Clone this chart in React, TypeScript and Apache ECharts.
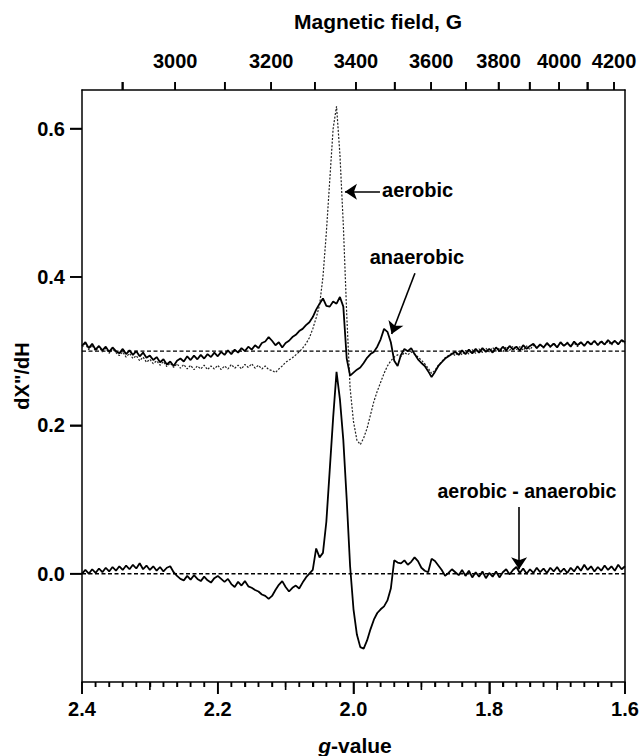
import React, { useEffect, useRef } from "react";
import * as echarts from "echarts";

// B (gauss) = FIELD_CONSTANT / g
const FIELD_CONSTANT = 6788;
const fieldMajorTicks = [3000, 3200, 3400, 3600, 3800, 4000, 4200];
const fieldMinorTicks = [2900, 3100, 3300, 3500, 3700, 3900, 4100];
const yTickValues = [0.0, 0.2, 0.4, 0.6];
const baselineLevels = [0.3, 0.0];
const G_MIN = 1.6;
const G_MAX = 2.4;
const Y_MIN = -0.146;
const Y_MAX = 0.652;

// sample positions (g-value), 2.400 down to 1.600 in steps of 0.005
const gGrid = Array.from({ length: 161 }, (_, i) => +(2.4 - 0.005 * i).toFixed(3));

const aerobic = [
  0.305, 0.310, 0.302, 0.308, 0.300, 0.306, 0.299, 0.304, 0.297, 0.303,
  0.298, 0.294, 0.299, 0.292, 0.297, 0.290, 0.294, 0.287, 0.292, 0.285,
  0.289, 0.283, 0.287, 0.281, 0.286, 0.279, 0.284, 0.278, 0.283, 0.277,
  0.282, 0.276, 0.281, 0.275, 0.280, 0.276, 0.281, 0.275, 0.280, 0.276,
  0.281, 0.275, 0.280, 0.276, 0.282, 0.277, 0.281, 0.276, 0.282, 0.278,
  0.283, 0.277, 0.281, 0.276, 0.280, 0.275, 0.274, 0.271, 0.276, 0.280,
  0.285, 0.288, 0.291, 0.295, 0.299, 0.304, 0.310, 0.318, 0.330, 0.345,
  0.362, 0.400, 0.460, 0.530, 0.600, 0.630, 0.565, 0.470, 0.350, 0.250,
  0.205, 0.180, 0.174, 0.183, 0.196, 0.214, 0.232, 0.246, 0.258, 0.270,
  0.280, 0.287, 0.292, 0.295, 0.293, 0.298, 0.295, 0.299, 0.296, 0.292,
  0.288, 0.283, 0.277, 0.270, 0.274, 0.281, 0.286, 0.291, 0.294, 0.297,
  0.294, 0.300, 0.295, 0.301, 0.296, 0.302, 0.297, 0.303, 0.298, 0.304,
  0.299, 0.305, 0.300, 0.304, 0.299, 0.306, 0.301, 0.307, 0.302, 0.306,
  0.301, 0.307, 0.302, 0.308, 0.304, 0.309, 0.304, 0.310, 0.305, 0.311,
  0.306, 0.311, 0.307, 0.312, 0.307, 0.311, 0.306, 0.312, 0.308, 0.313,
  0.308, 0.313, 0.309, 0.314, 0.309, 0.313, 0.308, 0.314, 0.310, 0.314, 0.310,
];

const anaerobic = [
  0.307, 0.312, 0.304, 0.310, 0.302, 0.307, 0.301, 0.306, 0.299, 0.305,
  0.300, 0.297, 0.303, 0.296, 0.301, 0.295, 0.300, 0.293, 0.298, 0.291,
  0.294, 0.288, 0.292, 0.285, 0.289, 0.282, 0.286, 0.280, 0.287, 0.290,
  0.286, 0.293, 0.288, 0.294, 0.289, 0.295, 0.290, 0.296, 0.292, 0.298,
  0.293, 0.299, 0.295, 0.301, 0.296, 0.302, 0.298, 0.304, 0.300, 0.306,
  0.302, 0.308, 0.304, 0.311, 0.313, 0.319, 0.314, 0.308, 0.312, 0.305,
  0.311, 0.314, 0.319, 0.322, 0.327, 0.330, 0.335, 0.339, 0.346, 0.356,
  0.364, 0.371, 0.361, 0.360, 0.367, 0.364, 0.373, 0.360, 0.290, 0.267,
  0.271, 0.275, 0.278, 0.284, 0.291, 0.296, 0.299, 0.306, 0.316, 0.330,
  0.326, 0.312, 0.287, 0.280, 0.295, 0.303, 0.300, 0.304, 0.296, 0.289,
  0.284, 0.280, 0.273, 0.265, 0.272, 0.280, 0.285, 0.290, 0.293, 0.296,
  0.299, 0.295, 0.301, 0.296, 0.302, 0.297, 0.303, 0.298, 0.304, 0.299,
  0.303, 0.298, 0.305, 0.300, 0.306, 0.301, 0.307, 0.302, 0.306, 0.301,
  0.308, 0.303, 0.307, 0.310, 0.304, 0.309, 0.305, 0.311, 0.306, 0.310,
  0.305, 0.312, 0.307, 0.311, 0.306, 0.313, 0.308, 0.312, 0.307, 0.313,
  0.309, 0.314, 0.308, 0.313, 0.309, 0.315, 0.310, 0.314, 0.309, 0.315, 0.312,
];

const difference = [
  0.000, 0.005, 0.000, 0.006, 0.001, 0.007, 0.002, 0.008, 0.003, 0.009,
  0.004, 0.010, 0.005, 0.011, 0.006, 0.012, 0.007, 0.014, 0.006, 0.011,
  0.005, 0.010, 0.004, 0.009, 0.003, 0.008, 0.010, 0.002, -0.003, -0.007,
  -0.009, -0.003, -0.008, -0.002, -0.007, -0.010, -0.004, -0.009, -0.012, -0.006,
  -0.003, -0.007, -0.011, -0.007, -0.014, -0.018, -0.011, -0.016, -0.010, -0.017,
  -0.019, -0.022, -0.024, -0.028, -0.030, -0.034, -0.030, -0.022, -0.015, -0.010,
  -0.018, -0.024, -0.019, -0.016, -0.020, -0.012, -0.005, 0.000, 0.005, 0.034,
  0.022, 0.028, 0.070, 0.140, 0.210, 0.272, 0.235, 0.180, 0.100, 0.010,
  -0.048, -0.082, -0.099, -0.101, -0.090, -0.075, -0.062, -0.053, -0.048, -0.044,
  -0.036, -0.020, 0.018, 0.015, 0.014, 0.018, 0.012, 0.016, 0.022, 0.017,
  0.008, 0.004, 0.002, 0.020, 0.017, 0.011, 0.005, -0.003, 0.001, 0.006,
  0.002, -0.002, 0.005, -0.003, 0.004, -0.005, 0.002, -0.004, 0.003, -0.006,
  0.001, -0.004, 0.003, -0.005, 0.002, 0.006, -0.001, 0.005, 0.009, 0.001,
  0.007, 0.000, 0.006, 0.001, 0.008, 0.002, 0.007, 0.001, 0.008, 0.003,
  0.009, 0.002, 0.007, 0.001, 0.008, 0.003, 0.010, 0.004, 0.012, 0.005,
  0.010, 0.003, 0.009, 0.004, 0.011, 0.005, 0.010, 0.004, 0.012, 0.006, 0.010,
];

// annotation anchors [g, value]
const aerobicArrow = [[1.961, 0.515], [2.0126, 0.515]];
const anaerobicArrow = [[1.9095, 0.405], [1.9438, 0.323]];
const diffArrow = [[1.756, 0.09], [1.756, 0.006]];
const aerobicLabelAt = [1.958, 0.517];
const anaerobicLabelAt = [1.9065, 0.427];
const diffLabelAt = [1.7445, 0.111];

type Tick = { x: number; y: number; dir: "down" | "up" | "left"; len: number; w: number };

export default function App() {
  const ref = useRef<HTMLDivElement>(null);
  useEffect(() => {
    const chart = echarts.init(ref.current!, null, { renderer: "svg" });
    const font = '"Liberation Sans", Arial, Helvetica, sans-serif';
    const pair = (vals: number[]) => gGrid.map((g, i) => [g, vals[i]]);
    const arrowLine = (a: number[][]) => [
      { coord: a[0], symbol: "none" },
      { coord: a[1], symbol: "arrow", symbolSize: 12 },
    ];
    const labelStyle = { color: "#000", fontFamily: font, fontWeight: "bold", fontSize: 20 };
    const axisLineStyle = { show: true, onZero: false, lineStyle: { color: "#000", width: 1.5 } };

    // tick marks (positions in axis units)
    const ticks: Tick[] = [];
    for (let k = 80; k <= 120; k++) {
      const g = +(k * 0.02).toFixed(2);
      const len = k % 10 === 0 ? 12 : k % 5 === 0 ? 8 : 5;
      ticks.push({ x: g, y: Y_MIN, dir: "down", len, w: 1.6 });
    }
    [...fieldMajorTicks, ...fieldMinorTicks].forEach((b) =>
      ticks.push({ x: FIELD_CONSTANT / b, y: Y_MAX, dir: "up", len: 8, w: 1.6 })
    );
    yTickValues.forEach((v) => ticks.push({ x: G_MAX, y: v, dir: "left", len: 12, w: 1.6 }));

    chart.setOption({
      animation: false,
      backgroundColor: "#fff",
      grid: { left: 82, right: 17, top: 90, bottom: 74, show: false },
      xAxis: [
        {
          type: "value", position: "bottom", min: G_MIN, max: G_MAX, interval: 0.2, inverse: true,
          axisLine: axisLineStyle,
          axisTick: { show: true, inside: false, length: 12, lineStyle: { color: "#000", width: 1.6 } },
          minorTick: { show: true, splitNumber: 10, length: 5, lineStyle: { color: "#000", width: 1.4 } },
          axisLabel: { show: true, ...labelStyle, margin: 17, formatter: (v: number) => v.toFixed(1) },
          splitLine: { show: false },
          minorSplitLine: { show: false },
        },
        {
          type: "value", position: "top", min: G_MIN, max: G_MAX, inverse: true,
          axisLine: axisLineStyle,
          axisTick: {
            show: true, inside: false, length: 8, lineStyle: { color: "#000", width: 1.6 },
            customValues: [...fieldMajorTicks, ...fieldMinorTicks].map((b) => FIELD_CONSTANT / b),
          },
          axisLabel: {
            show: true, ...labelStyle, margin: 19,
            customValues: fieldMajorTicks.map((b) => FIELD_CONSTANT / b),
            formatter: (v: number) => String(Math.round(FIELD_CONSTANT / v / 100) * 100),
          },
          splitLine: { show: false },
        },
      ],
      yAxis: [
        {
          type: "value", position: "left", min: Y_MIN, max: Y_MAX,
          axisLine: axisLineStyle,
          axisTick: { show: true, inside: false, length: 12, lineStyle: { color: "#000", width: 1.6 }, customValues: yTickValues },
          axisLabel: { show: true, ...labelStyle, margin: 17, customValues: yTickValues, formatter: (v: number) => v.toFixed(1) },
          splitLine: { show: false },
        },
        {
          type: "value", position: "right", min: Y_MIN, max: Y_MAX,
          axisLine: axisLineStyle,
          axisTick: { show: false },
          axisLabel: { show: false },
          splitLine: { show: false },
        },
      ],
      series: [
        ...baselineLevels.map((lvl) => ({
          type: "line", xAxisIndex: 0, yAxisIndex: 0, symbol: "none", silent: true, z: 1,
          data: [[G_MAX, lvl], [G_MIN, lvl]],
          lineStyle: { color: "#000", width: 1.4, type: [4, 2.5] },
        })),
        {
          name: "aerobic", type: "line", xAxisIndex: 0, yAxisIndex: 0, symbol: "none", z: 2,
          data: pair(aerobic),
          lineStyle: { color: "#222", width: 1.2, type: [2, 1.6] },
        },
        {
          name: "anaerobic", type: "line", xAxisIndex: 0, yAxisIndex: 0, symbol: "none", z: 3,
          data: pair(anaerobic),
          lineStyle: { color: "#000", width: 1.8 },
        },
        {
          name: "aerobic - anaerobic", type: "line", xAxisIndex: 0, yAxisIndex: 0, symbol: "none", z: 3,
          data: pair(difference),
          lineStyle: { color: "#000", width: 1.8 },
          markLine: {
            silent: true, animation: false,
            lineStyle: { color: "#000", width: 1.6, type: "solid" },
            label: { show: false },
            data: [arrowLine(aerobicArrow), arrowLine(anaerobicArrow), arrowLine(diffArrow)],
          },
        },
      ],
    });

    const px = (p: number[]) => chart.convertToPixel({ xAxisIndex: 0, yAxisIndex: 0 }, p) as number[];
    // backup tick marks, positioned through the axes (overlap the axis ticks exactly)
    const tickGraphics = ticks.map((t) => {
      const p = px([t.x, t.y]);
      const shape =
        t.dir === "down"
          ? { x: p[0] - t.w / 2, y: p[1], width: t.w, height: t.len }
          : t.dir === "up"
          ? { x: p[0] - t.w / 2, y: p[1] - t.len, width: t.w, height: t.len }
          : { x: p[0] - t.len, y: p[1] - t.w / 2, width: t.len, height: t.w };
      return { type: "rect", silent: true, z: 100, shape, style: { fill: "#000" } };
    });
    const a1 = px(aerobicLabelAt);
    const a2 = px(anaerobicLabelAt);
    const a3 = px(diffLabelAt);
    const txt = (x: number, y: number, text: string, size: number, align = "center") => ({
      type: "text", x, y, silent: true,
      style: { text, fill: "#000", font: `bold ${size}px ${font}`, align, verticalAlign: "middle" },
    });
    chart.setOption({
      graphic: {
        elements: [
          ...tickGraphics,
          txt(378, 21, "Magnetic field, G", 21),
          {
            type: "text", x: 355, y: 745, silent: true,
            style: {
              text: "{i|g}{b|-value}", align: "center", verticalAlign: "middle", fill: "#000",
              rich: {
                i: { fontFamily: font, fontWeight: "bold", fontStyle: "italic", fontSize: 21, fill: "#000" },
                b: { fontFamily: font, fontWeight: "bold", fontSize: 21, fill: "#000" },
              },
            },
          },
          { ...txt(22, 376, 'dX"/dH', 20), rotation: Math.PI / 2 },
          txt(a1[0], a1[1], "aerobic", 20, "left"),
          txt(a2[0], a2[1], "anaerobic", 20),
          txt(a3[0], a3[1], "aerobic - anaerobic", 19.5),
        ],
      },
    });

    return () => chart.dispose();
  }, []);
  return (
    <div
      ref={ref}
      style={{ position: "fixed", left: 0, top: 0, width: 642, height: 756, background: "#fff" }}
    />
  );
}
